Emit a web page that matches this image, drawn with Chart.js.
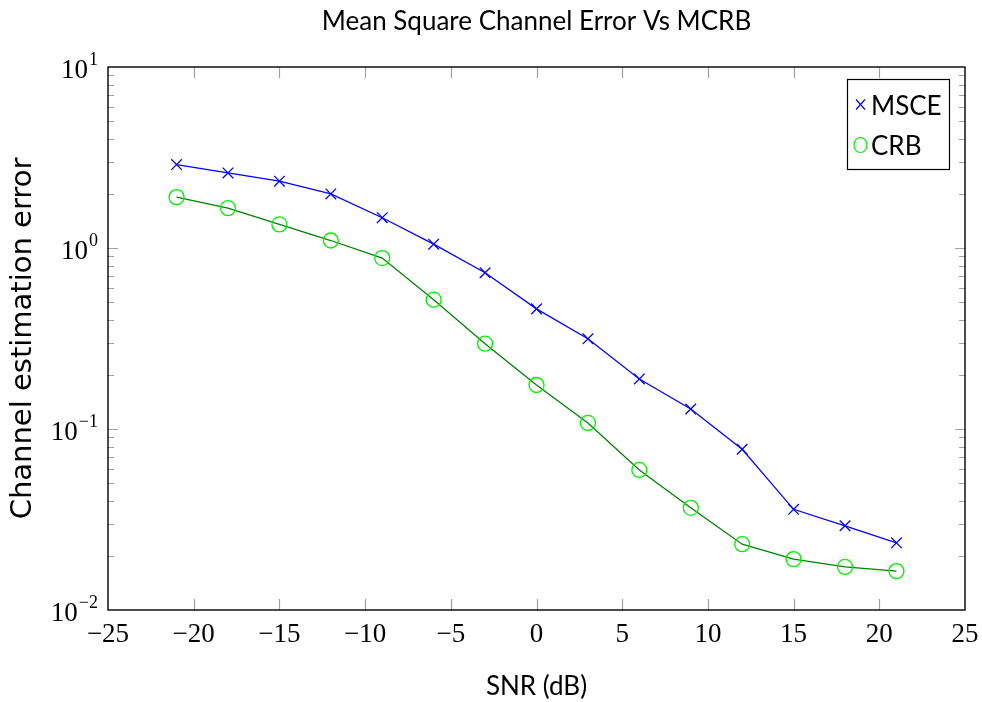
<!DOCTYPE html>
<html>
<head>
<meta charset="utf-8">
<script src="https://cdn.jsdelivr.net/npm/chart.js@4/dist/chart.umd.min.js"></script>
<style>
    html, body { margin: 0; padding: 0; background: #fff; }
    #wrap { width: 982px; height: 702px; }
</style>
</head>
<body>
<div id="wrap"><canvas id="chart" width="982" height="702"></canvas></div>
<script>
const snr = [-21, -18, -15, -12, -9, -6, -3, 0, 3, 6, 9, 12, 15, 18, 21];
const msce = [2.89, 2.60, 2.34, 1.99, 1.47, 1.05, 0.73, 0.461, 0.315, 0.189, 0.129, 0.0773, 0.036, 0.0292, 0.0235];
const crb = [1.91, 1.66, 1.35, 1.10, 0.88, 0.518, 0.296, 0.175, 0.108, 0.0594, 0.0367, 0.0231, 0.0191, 0.0173, 0.0164];
const xTicks = [-25, -20, -15, -10, -5, 0, 5, 10, 15, 20, 25];
const yDecades = [-2, -1, 0, 1];

const SANS = "Lato, 'Open Sans', sans-serif";
const SERIF = "'Liberation Serif', 'DejaVu Serif', serif";

// inward ticks, frame, y labels with exponents, legend box
const framePlugin = {
    id: "frame",
    afterDraw(chart) {
        const ctx = chart.ctx;
        const a = chart.chartArea;
        const xs = chart.scales.x;
        const ys = chart.scales.y;

        ctx.save();
        ctx.strokeStyle = "#a0a0a0";
        ctx.lineWidth = 1.2;
        ctx.beginPath();
        xs.ticks.forEach(t => {
            const px = Math.round(xs.getPixelForValue(t.value)) + 0.5;
            if (px <= a.left + 1 || px >= a.right - 1)
                return;
            ctx.moveTo(px, a.bottom); ctx.lineTo(px, a.bottom - 11);
            ctx.moveTo(px, a.top); ctx.lineTo(px, a.top + 11);
        });
        ys.ticks.forEach(t => {
            const py = Math.round(ys.getPixelForValue(t.value)) + 0.5;
            if (py <= a.top + 1 || py >= a.bottom - 1)
                return;
            const major = Math.abs(Math.log10(t.value) - Math.round(Math.log10(t.value))) < 1e-9;
            const len = major ? 10 : 6;
            ctx.moveTo(a.left, py); ctx.lineTo(a.left + len, py);
            ctx.moveTo(a.right, py); ctx.lineTo(a.right - len, py);
        });
        ctx.stroke();

        ctx.strokeStyle = "#000";
        ctx.lineWidth = 1.4;
        ctx.strokeRect(a.left, a.top, a.right - a.left, a.bottom - a.top);

        // y tick labels 10^n
        ctx.fillStyle = "#000";
        ctx.textBaseline = "alphabetic";
        ctx.textAlign = "right";
        yDecades.forEach(e => {
            const py = ys.getPixelForValue(Math.pow(10, e));
            const exp = e < 0 ? "\u2212" + (-e) : String(e);
            ctx.font = "18px " + SERIF;
            const ew = ctx.measureText(exp).width;
            ctx.fillText(exp, 98, py - 2);
            ctx.font = "27px " + SERIF;
            ctx.fillText("10", 97 - ew, py + 11);
        });

        // legend
        const lx = 847, ly = 79, lw = 102, lh = 90;
        ctx.fillStyle = "#fff";
        ctx.fillRect(lx, ly, lw, lh);
        ctx.strokeStyle = "#000";
        ctx.lineWidth = 1.2;
        ctx.strokeRect(lx + 0.5, ly + 0.5, lw, lh);

        const items = chart.data.datasets;
        const rows = [104.5, 145];
        items.forEach((ds, i) => {
            const cy = rows[i];
            ctx.strokeStyle = ds.pointBorderColor;
            ctx.lineWidth = 1.2;
            ctx.beginPath();
            if (ds.pointStyle === "crossRot") {
                ctx.moveTo(856, cy - 5); ctx.lineTo(865, cy + 5);
                ctx.moveTo(865, cy - 5); ctx.lineTo(856, cy + 5);
            } else {
                ctx.ellipse(860.5, cy, 6.5, 7.5, 0, 0, Math.PI * 2);
            }
            ctx.stroke();
            ctx.fillStyle = "#000";
            ctx.textAlign = "left";
            ctx.font = "26px " + SANS;
            ctx.fillText(ds.label, 871, cy + 10);
        });
        ctx.restore();
    }
};

new Chart(document.getElementById("chart"), {
    type: "line",
    data: {
        labels: snr,
        datasets: [{
            label: "MSCE",
            data: snr.map((x, i) => ({ x: x, y: msce[i] })),
            borderColor: "#0000ff",
            borderWidth: 1.3,
            pointStyle: "crossRot",
            pointRadius: 7.5,
            pointBorderColor: "#0000ff",
            pointBorderWidth: 1.3,
            pointBackgroundColor: "#0000ff",
            fill: false,
            tension: 0,
        }, {
            label: "CRB",
            data: snr.map((x, i) => ({ x: x, y: crb[i] })),
            borderColor: "#008000",
            borderWidth: 1.3,
            pointStyle: "circle",
            pointRadius: 7.5,
            pointBorderColor: "#00ee00",
            pointBorderWidth: 1.3,
            pointBackgroundColor: "rgba(0,0,0,0)",
            fill: false,
            tension: 0,
        }]
    },
    options: {
        responsive: false,
        devicePixelRatio: 1,
        animation: false,
        layout: {
            padding: { left: 0, right: 17, top: 0, bottom: 0 }
        },
        plugins: {
            legend: { display: false },
            tooltip: { enabled: false },
            title: {
                display: true,
                fullSize: false,
                text: "Mean Square Channel Error Vs MCRB",
                color: "#000",
                font: { family: SANS, size: 26, weight: "normal", lineHeight: 1.2 },
                padding: { top: 6, bottom: 29.8 }
            }
        },
        scales: {
            x: {
                type: "linear",
                min: -25,
                max: 25,
                afterBuildTicks: (scale) => {
                    scale.ticks = xTicks.map(v => ({ value: v }));
                },
                afterFit: (scale) => {
                    scale.height = 92;
                    scale.paddingLeft = 0;
                    scale.paddingRight = 0;
                },
                grid: { display: false, drawTicks: false },
                border: { display: false },
                ticks: {
                    color: "#000",
                    padding: 9,
                    maxRotation: 0,
                    font: { family: SERIF, size: 27 },
                    callback: (v) => v < 0 ? "\u2212" + (-v) : String(v)
                },
                title: {
                    display: true,
                    text: "SNR (dB)",
                    color: "#000",
                    font: { family: SANS, size: 26 },
                    padding: { top: 3, bottom: 0 }
                }
            },
            y: {
                type: "logarithmic",
                min: 0.01,
                max: 10,
                afterBuildTicks: (scale) => {
                    const t = [];
                    for (let e = -2; e <= 0; e++) {
                        for (let m = 1; m <= 9; m++)
                            t.push({ value: m * Math.pow(10, e) });
                    }
                    t.push({ value: 10 });
                    scale.ticks = t;
                },
                afterFit: (scale) => {
                    scale.width = 108;
                    scale.paddingTop = 0;
                    scale.paddingBottom = 0;
                },
                grid: { display: false, drawTicks: false },
                border: { display: false },
                ticks: { display: false },
                title: {
                    display: true,
                    text: "Channel estimation error",
                    color: "#000",
                    font: { family: "'DejaVu Sans', sans-serif", size: 29 },
                    padding: { top: 6, bottom: 0 }
                }
            }
        }
    },
    plugins: [framePlugin]
});
</script>
</body>
</html>
